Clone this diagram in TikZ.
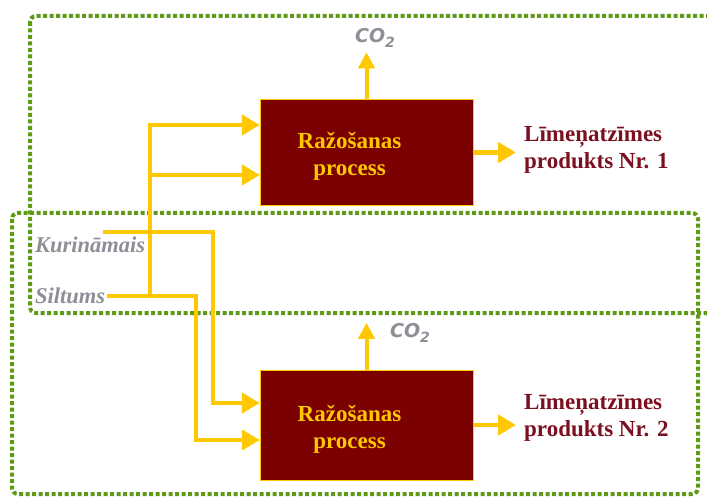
\documentclass[tikz,border=0pt]{standalone}
\usepackage{fontspec}
\setmainfont{Liberation Serif}
\newfontfamily\cofont{DejaVu Sans}
\usetikzlibrary{arrows.meta,positioning}
\definecolor{zelts}{HTML}{FFC800}
\definecolor{bordo}{HTML}{7B0000}
\definecolor{zals}{HTML}{5E9A16}
\definecolor{pelek}{HTML}{8E8E96}
\definecolor{produkts}{HTML}{7A1020}
\begin{document}
\begin{tikzpicture}[x=1pt,y=1pt,font=\fontsize{23}{27}\selectfont\bfseries,
	plusma/.style={zelts,line width=4.5pt,line join=miter,-{Triangle[length=18pt,width=20pt]}},
	robeza/.style={zals,line width=4pt,dash pattern=on 4pt off 2.5pt,rounded corners=6pt},
	process/.style={draw=zelts,fill=bordo,minimum width=213pt,minimum height=106pt,inner sep=0pt},
	gazes/.style={pelek,font=\cofont\fontsize{19}{21}\selectfont\bfseries\itshape}]
				\clip (0,0) rectangle (707,-497);
				\draw[robeza] (30,-16) rectangle (730,-313);
				\draw[robeza] (12,-213) rectangle (698,-494);
				\node[process] (P1) at (366.5,-152.5) {};
				\node[process,minimum height=110pt] (P2) at (366.5,-425) {};
				\foreach \p in {P1,P2}{
					\node[zelts,align=center] (\p t) at ([xshift=-17pt,yshift=-4pt]\p.center) {Ražošanas\\process};
				}
				\node[produkts,align=left,anchor=west,inner xsep=8pt] (L1) at (516,-150) {Līmeņatzīmes\\produkts Nr. 1};
				\node[produkts,align=left,anchor=west,inner xsep=8pt] (L2) at (516,-418) {Līmeņatzīmes\\produkts Nr. 2};
				\node[gazes] (C1) at (375,-38) {CO\raisebox{-0.4ex}{\fontsize{14}{14}\selectfont 2}};
				\node[gazes] (C2) at (410,-333) {CO\raisebox{-0.4ex}{\fontsize{14}{14}\selectfont 2}};
				\node[pelek,font=\fontsize{22.5}{26}\selectfont\bfseries\itshape,anchor=base west,inner xsep=2pt] (K) at (33,-253) {Kurināmais};
				\node[pelek,font=\fontsize{22.5}{26}\selectfont\bfseries\itshape,anchor=base west,inner xsep=2pt] (S) at (33,-303) {Siltums};
				\path (103,-232) coordinate (k0) (213,-232) coordinate (k1)
				(196,-296) coordinate (s1) (150,-296) coordinate (s0);
				% ievadi
				\draw[plusma] (k0) -- (k1) |- ([yshift=22pt]P2.west);
				\draw[plusma] (S.east |- s1) -- (s1) |- ([yshift=-15pt]P2.west);
				\draw[plusma] (s0) |- ([yshift=27.5pt]P1.west);
				\draw[plusma] (s0) |- ([yshift=-22.5pt]P1.west);
				% izvadi
				\foreach \p/\l in {P1/L1,P2/L2}{
					\draw[plusma] (\p.east) -- (\p.east -| \l.west);
					\draw[plusma,line width=4pt,-{Triangle[length=16pt,width=16pt]}] (\p.north) -- ++(0,47);
				}
			\end{tikzpicture}
\end{document}
